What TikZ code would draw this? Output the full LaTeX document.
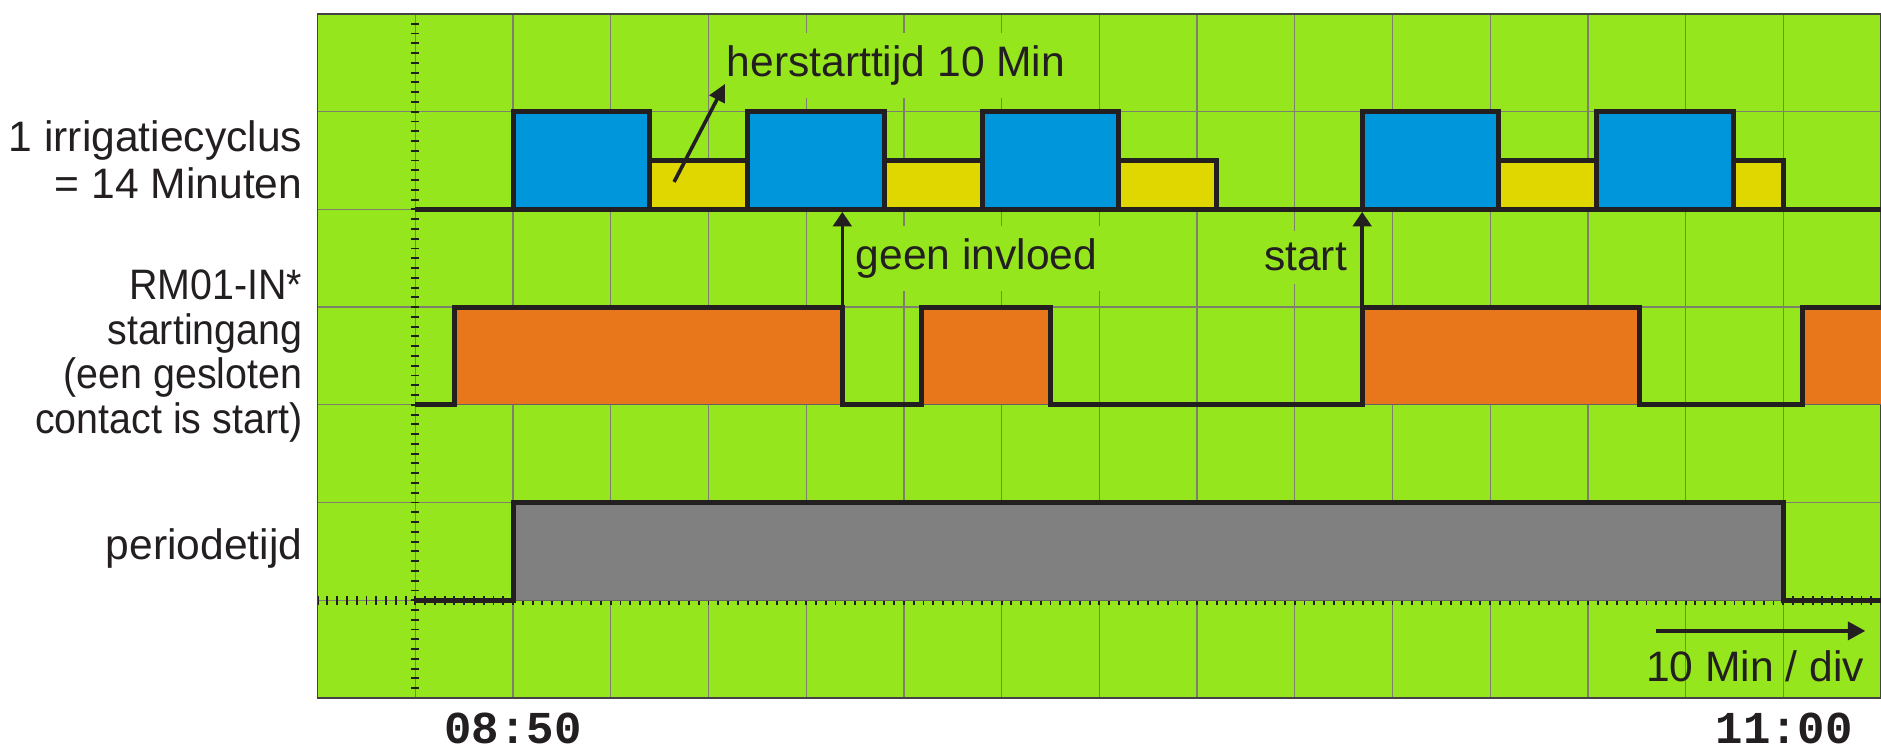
\documentclass[tikz,border=0pt]{standalone}
\usepackage{fontspec}
\setmainfont{Liberation Sans}
\newfontfamily\narrowfont[FakeStretch=0.925]{Liberation Sans}
\newfontfamily\timefont{Liberation Mono}
\usetikzlibrary{arrows.meta}
\definecolor{bg}{RGB}{150,230,30}
\definecolor{gridc}{RGB}{125,128,110}
\definecolor{ink}{RGB}{35,31,32}
\definecolor{blu}{RGB}{0,150,220}
\definecolor{yel}{RGB}{225,215,0}
\definecolor{ora}{RGB}{232,118,26}
\definecolor{gry}{RGB}{128,128,128}
\begin{document}
\begin{tikzpicture}[x=1cm,y=1cm,
  sig/.style={draw=ink,line width=1.45pt,line join=miter},
  gridline/.style={draw=gridc,line width=0.38pt},
  tick/.style={draw=ink,line width=0.55pt},
  lbl/.style={font=\fontsize{12.4}{14}\selectfont,text=ink,inner sep=0pt,anchor=base east},
  nlbl/.style={font=\narrowfont\fontsize{12.4}{14}\selectfont,text=ink,inner sep=0pt,anchor=base east},
  note/.style={font=\fontsize{12.4}{14}\selectfont,text=ink,fill=bg,inner xsep=0.1cm,inner ysep=0.13cm,anchor=base west},
  plain/.style={font=\fontsize{12.4}{14}\selectfont,text=ink,inner sep=0pt,anchor=base west},
  timel/.style={font=\timefont\bfseries\fontsize{13.3}{15}\selectfont,text=ink,inner sep=0pt,anchor=base},
  ptr/.style={draw=ink,line width=1.05pt,-{Triangle[length=0.15cm,width=0.19cm]}},
  bigptr/.style={draw=ink,line width=1.1pt,-{Triangle[length=0.18cm,width=0.185cm]}},
  bluebox/.style={fill=blu},
  yelbox/.style={fill=yel},
  orabox/.style={fill=ora,draw=ink!70,line width=0.3pt},
  grybox/.style={fill=gry,draw=ink!70,line width=0.3pt},
]
\useasboundingbox (-3.251,-0.532) rectangle (16,7.143);
% background
\fill[bg] (0,0) rectangle (16,7);
% grid
\foreach \x in {1,...,15} \draw[gridline] (\x,0) -- (\x,7);
\foreach \y in {1,...,6} \draw[gridline] (0,\y) -- (16,\y);
% axes ticks
\foreach \i in {0,...,70} \draw[tick] (0.96,\i/10) -- (1.04,\i/10);
\foreach \i in {0,...,160} \draw[tick] (\i/10,0.955) -- (\i/10,1.045);
\draw[ink!85,line width=0.45pt] (0,0) rectangle (16,7);

% labels with background
\node[note] (herst) at (4.08,6.356) {herstarttijd 10 Min};
\node[note] (geen) at (5.40,4.381) {geen invloed};
\node[note] (startl) at (9.58,4.371) {start};

% irrigation cycle
\foreach \a/\b in {2/3.4,4.4/5.8,6.8/8.2,10.69/12.09,13.09/14.49}
  \filldraw[bluebox,sig] (\a,5) rectangle (\b,6);
\foreach \a/\b in {3.4/4.4,5.8/6.8,8.2/9.2,12.09/13.09,14.49/15}
  \filldraw[yelbox,sig] (\a,5) rectangle (\b,5.5);
\draw[sig] (1,5) -- (16,5);

% RM01 input
\foreach \a/\b in {1.4/5.37,6.18/7.5,10.69/13.53,15.2/16.2}
  \filldraw[orabox] (\a,3) rectangle (\b,4);
\draw[sig] (1,3) -- (1.4,3) -- (1.4,4) -- (5.37,4) -- (5.37,3) -- (6.18,3) -- (6.18,4)
  -- (7.5,4) -- (7.5,3) -- (10.69,3) -- (10.69,4) -- (13.53,4) -- (13.53,3) -- (15.2,3)
  -- (15.2,4) -- (16.1,4);

% period time
\filldraw[grybox] (2,1) rectangle (15,2);
\draw[sig] (1,1) -- (2,1) -- (2,2) -- (15,2) -- (15,1) -- (16.1,1);

% arrows
\coordinate (g0) at (5.37,4);
\coordinate (g1) at (5.37,4.975);
\coordinate (s0) at (10.69,4);
\coordinate (s1) at (10.69,4.975);
\coordinate (h0) at (3.648,5.281);
\coordinate (h1) at (4.170,6.285);
\coordinate (d0) at (13.70,0.686);
\coordinate (d1) at (15.84,0.686);
\draw[ptr] (g0) -- (g1);
\draw[ptr] (s0) -- (s1);
\draw[ptr,-{Triangle[length=0.18cm,width=0.17cm]}] (h0) -- (h1);
\draw[bigptr] (d0) -- (d1);
\node[plain] (div) at (13.59,0.164) {10 Min / div};

% left labels
\node[lbl] (c1) at (-0.15,5.592) {1 irrigatiecyclus};
\node[lbl] (c2) at (-0.15,5.115) {= 14 Minuten};
\node[nlbl] (r1) at (-0.15,4.074) {RM01-IN*};
\node[nlbl] (r2) at (-0.15,3.613) {startingang};
\node[nlbl] (r3) at (-0.15,3.170) {(een gesloten};
\node[nlbl] (r4) at (-0.15,2.709) {contact is start)};
\node[lbl] (p1) at (-0.15,1.412) {periodetijd};

% time labels
\node[timel] (t1) at (2.0,-0.471) {08:50};
\node[timel] (t2) at (15.01,-0.471) {11:00};
\end{tikzpicture}
\end{document}
